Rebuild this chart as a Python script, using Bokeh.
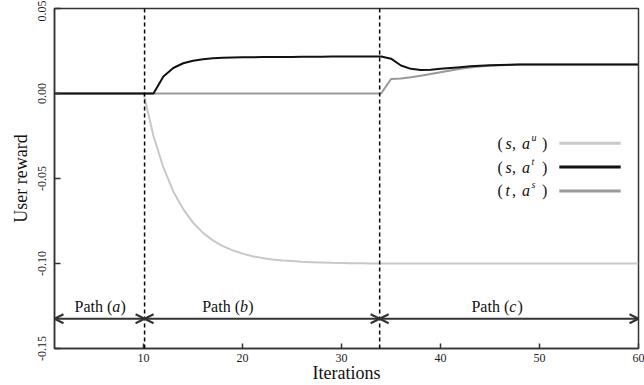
import math
from bokeh.plotting import figure
from bokeh.models import (ColumnDataSource, Span, Arrow, OpenHead, FixedTicker,
                          PrintfTickFormatter, Range1d)
from bokeh.core.properties import value
from bokeh.embed import file_html
from bokeh.resources import INLINE

# ---------------- data ----------------
iterations = list(range(1, 61))

# (s, a^u)  light gray
s_au = [0.0] * 10 + [
    -0.025, -0.0435, -0.0576, -0.068, -0.076, -0.082, -0.0864, -0.0898, -0.0923, -0.0942,
    -0.0957, -0.0968, -0.0976, -0.0982, -0.0986, -0.0990, -0.0992, -0.0994, -0.0996, -0.0997,
    -0.0998, -0.0999] + [-0.100] * 28

# (s, a^t)  black
s_at = [0.0] * 11 + [
    0.0100, 0.0150, 0.0178, 0.0193, 0.0202, 0.0207, 0.0210, 0.0212, 0.0213, 0.0213,
    0.0214, 0.0214, 0.0215, 0.0215, 0.0216, 0.0216, 0.0216, 0.0217, 0.0217, 0.0217,
    0.0218, 0.0218, 0.0218,
    0.0205, 0.0165, 0.0145, 0.0138, 0.0140, 0.0145, 0.0150, 0.0155, 0.0160, 0.0163,
    0.0166, 0.0168, 0.0169] + [0.0170] * 13

# (t, a^s)  mid gray
t_as = [0.0] * 34 + [
    0.0085, 0.0088, 0.0095, 0.0105, 0.0115, 0.0125, 0.0135, 0.0145, 0.0153, 0.0159,
    0.0163, 0.0166, 0.0168] + [0.0170] * 13

series_letters = [("s", "a", "u"), ("s", "a", "t"), ("t", "a", "s")]
series_colors = ["#c8c8c8", "#111111", "#999999"]

path_bounds = [1, 10.1, 33.85, 60]
path_letters = ["a", "b", "c"]
path_label_x = [5.6, 18.5, 45.7]

x_ticks = [10, 20, 30, 40, 50, 60]
y_ticks = [0.05, 0.0, -0.05, -0.10, -0.15]

# ---------------- style ----------------
FONT = "Liberation Serif"
AX = "#333333"

p = figure(width=644, height=385, x_range=Range1d(1, 60), y_range=Range1d(-0.15, 0.05),
           output_backend="svg", toolbar_location=None,
           min_border_left=54, min_border_right=6, min_border_top=8, min_border_bottom=36)
p.xgrid.visible = False
p.ygrid.visible = False
p.outline_line_color = AX
p.outline_line_width = 1.5
p.background_fill_color = "white"
p.border_fill_color = "white"

# curves
src = ColumnDataSource(dict(x=iterations, u=s_au, t=s_at, s=t_as))
p.line("x", "u", source=src, line_color=series_colors[0], line_width=2)
p.line("x", "s", source=src, line_color=series_colors[2], line_width=2)
p.line("x", "t", source=src, line_color=series_colors[1], line_width=2)

# dashed separators
for loc in path_bounds[1:-1]:
    p.add_layout(Span(location=loc, dimension="height", line_color="black",
                      line_dash="4 3", line_width=1.5))

# arrows
arrow_y = -0.1325
asrc = ColumnDataSource(dict(x0=path_bounds[:-1], x1=path_bounds[1:],
                             y=[arrow_y] * (len(path_bounds) - 1)))
p.add_layout(Arrow(start=OpenHead(size=9, line_width=2, line_color=AX),
                   end=OpenHead(size=9, line_width=2, line_color=AX),
                   x_start="x0", y_start="y", x_end="x1", y_end="y", source=asrc,
                   line_width=2, line_color=AX))

# path labels
label_y = -0.1254
n = len(path_letters)
p.text(x=path_label_x, y=[label_y] * n, text=["Path ("] * n, x_offset=-25.5,
       text_font=value(FONT), text_font_size="16px", text_align="left",
       text_baseline="middle", text_color="#111")
p.text(x=path_label_x, y=[label_y] * n, text=path_letters, x_offset=12.3,
       text_font=value(FONT), text_font_size="16px", text_font_style="italic",
       text_align="left", text_baseline="middle", text_color="#111")
p.text(x=path_label_x, y=[label_y] * n, text=[")"] * n, x_offset=20.5,
       text_font=value(FONT), text_font_size="16px", text_align="left",
       text_baseline="middle", text_color="#111")

# legend (manual, to allow italic letters and superscripts)
leg_x = 45.76
leg_line_x0, leg_line_x1 = 52.0, 58.2
leg_rows_y = [-0.0292, -0.0433, -0.0573]
m = len(series_letters)
p.segment(x0=[leg_line_x0] * m, x1=[leg_line_x1] * m, y0=leg_rows_y, y1=leg_rows_y,
          line_color=series_colors, line_width=3)
common = dict(text_font=value(FONT), text_align="left", text_baseline="middle", text_color="#111")
for txt, off in [("(", 0), (",", 14.5), (")", 44.5)]:
    p.text(x=[leg_x] * m, y=leg_rows_y, text=[txt] * m, x_offset=off,
           text_font_size="16px", **common)
p.text(x=[leg_x] * m, y=leg_rows_y, text=[s[0] for s in series_letters], x_offset=8,
       text_font_size="16px", text_font_style="italic", **common)
p.text(x=[leg_x] * m, y=leg_rows_y, text=[s[1] for s in series_letters], x_offset=24.5,
       text_font_size="16px", text_font_style="italic", **common)
p.text(x=[leg_x] * m, y=leg_rows_y, text=[s[2] for s in series_letters], x_offset=34,
       y_offset=-6, text_font_size="10px", text_font_style="italic", **common)

# axes
for ax in (p.xaxis[0], p.yaxis[0]):
    ax.axis_line_color = AX
    ax.axis_line_width = 1.5
    ax.major_tick_line_color = AX
    ax.major_tick_line_width = 1.5
    ax.major_tick_in = 5
    ax.major_tick_out = 0
    ax.minor_tick_line_color = None
    ax.major_label_text_font = FONT
    ax.major_label_text_font_size = "12px"
    ax.major_label_text_color = "#222"
    ax.axis_label_text_font = FONT
    ax.axis_label_text_font_size = "18px"
    ax.axis_label_text_font_style = "normal"
    ax.axis_label_text_color = "#111"

p.xaxis.ticker = FixedTicker(ticks=x_ticks)
p.xaxis.axis_label = "Iterations"
p.xaxis.major_label_standoff = 5
p.xaxis.axis_label_standoff = -2

p.yaxis.ticker = FixedTicker(ticks=y_ticks)
p.yaxis.formatter = PrintfTickFormatter(format="%.2f")
p.yaxis.major_label_orientation = "vertical"
p.yaxis.axis_label = "User reward"
p.yaxis.major_label_standoff = 9
p.yaxis.axis_label_standoff = 4
p.yaxis.major_tick_in = 6

open("out.html", "w").write(file_html(p, INLINE))
